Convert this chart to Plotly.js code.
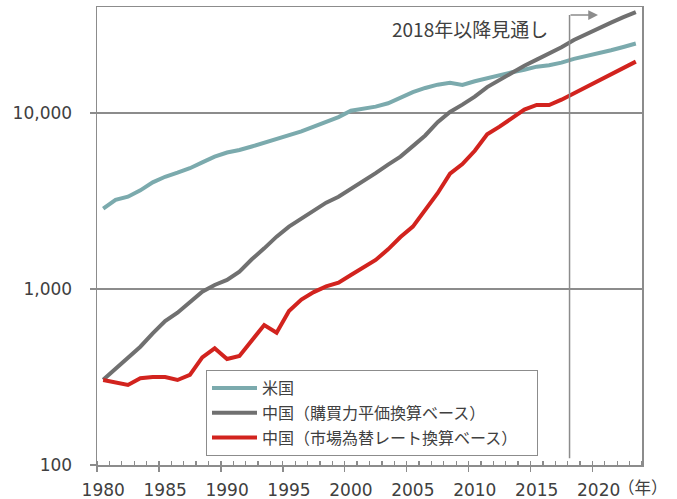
<!DOCTYPE html>
<html>
<head>
<meta charset="utf-8">
<script src="https://cdn.plot.ly/plotly-3.0.1.min.js"></script>
<style>
html,body{margin:0;padding:0;background:#fff;}
#chart{width:677px;height:499px;}
</style>
</head>
<body>
<div id="chart"></div>
<script>
const years = [1980,1981,1982,1983,1984,1985,1986,1987,1988,1989,
               1990,1991,1992,1993,1994,1995,1996,1997,1998,1999,
               2000,2001,2002,2003,2004,2005,2006,2007,2008,2009,
               2010,2011,2012,2013,2014,2015,2016,2017,2018,2019,
               2020,2021,2022,2023];

const usGDP = [2857,3207,3343,3634,4037,4339,4580,4855,5236,5642,
               5963,6158,6450,6780,7150,7450,7850,8370,8900,9480,
               10300,10540,10860,11350,12220,13120,13870,14480,14860,14420,
               15140,15810,16510,17030,17610,18330,18660,19320,20300,21000,
               21800,22700,23700,24800];

const chinaPPP = [305,354,409,470,560,658,733,836,966,1054,
                  1125,1254,1475,1701,1983,2259,2522,2812,3094,3340,
                  3690,4110,4550,5090,5650,6480,7450,8870,10130,11150,
                  12380,14030,15400,16990,18540,20090,21730,23620,25980,28100,
                  30300,32600,35000,37400];

const chinaMarket = [304,293,285,311,316,316,304,325,409,460,
                     400,416,513,624,565,750,870,960,1035,1086,
                     1201,1321,1461,1680,1974,2260,2830,3500,4520,5120,
                     6100,7560,8360,9360,10450,11100,11100,11900,12940,14000,
                     15280,16670,18080,19570];

const seriesNames = ['米国','中国（購買力平価換算ベース）','中国（市場為替レート換算ベース）'];
const xTickVals = [1980,1985,1990,1995,2000,2005,2010,2015,2020];
const xTickLabels = ['1980','1985','1990','1995','2000','2005','2010','2015','2020'];
const xTickBounds = [1979.5,1984.5,1989.5,1994.5,1999.5,2004.5,2009.5,2014.5,2019.5];
const yTickVals = [100,1000,10000];
const yTickText = ['100','1,000','10,000'];
const forecastLabel = '2018年以降見通し';
const yearUnit = '（年）';

const axisColor = '#8c8c8c';
const textColor = '#404040';
const cjk = '"Noto Sans CJK JP", sans-serif';
const latin = '"DejaVu Sans", sans-serif';
const xRange = [1979.5, 2023.5];
const pad = '\u00a0\u00a0\u00a0\u00a0';

const traces = [
  {x: years, y: usGDP, name: seriesNames[0], type: 'scatter', mode: 'lines',
   line: {color: '#7BAAAD', width: 4}, legendgroup: 'a'},
  {x: years, y: chinaPPP, name: seriesNames[1], type: 'scatter', mode: 'lines',
   line: {color: '#707070', width: 4}, legendgroup: 'b'},
  {x: years, y: chinaMarket, name: seriesNames[2] + pad, type: 'scatter', mode: 'lines',
   line: {color: '#D2231E', width: 4}, legendgroup: 'c'},
  {x: [], y: [], xaxis: 'x2', yaxis: 'y', type: 'scatter', mode: 'lines',
   showlegend: false, hoverinfo: 'skip'}
];

const layout = {
  width: 677, height: 499,
  margin: {l: 97, r: 35, t: 7, b: 34},
  paper_bgcolor: '#fff', plot_bgcolor: '#fff',
  showlegend: true,
  legend: {
    x: 0.2, y: 0.2074, xanchor: 'left', yanchor: 'top',
    bgcolor: '#fff', bordercolor: axisColor, borderwidth: 1,
    font: {family: cjk, size: 16, color: textColor},
    tracegroupgap: 1, itemwidth: 45
  },
  xaxis: {
    type: 'linear', range: xRange,
    tickmode: 'array', tickvals: xTickVals, ticktext: xTickLabels,
    ticks: '', ticklabelstandoff: 9,
    showgrid: false, zeroline: false,
    showline: true, mirror: true, linecolor: axisColor, linewidth: 1.5,
    tickfont: {family: latin, size: 17, color: textColor}
  },
  xaxis2: {
    overlaying: 'x', side: 'bottom', type: 'linear', range: xRange,
    tickmode: 'array', tickvals: xTickBounds, showticklabels: false,
    ticks: 'outside', ticklen: 6, tickwidth: 1.5, tickcolor: axisColor,
    minor: {tick0: 1979.5, dtick: 1, ticks: 'inside', ticklen: 4, tickwidth: 1.3, tickcolor: axisColor, showgrid: false},
    showgrid: false, zeroline: false, showline: false
  },
  yaxis: {
    type: 'log', range: [2, 4.602],
    tickmode: 'array', tickvals: yTickVals, ticktext: yTickText,
    ticks: 'outside', ticklen: 6, tickwidth: 1.5, tickcolor: axisColor,
    ticklabelstandoff: 14,
    showgrid: true, gridcolor: axisColor, gridwidth: 1.3,
    zeroline: false,
    showline: true, mirror: true, linecolor: axisColor, linewidth: 1.5,
    tickfont: {family: latin, size: 17, color: textColor}
  },
  shapes: [
    {type: 'line', xref: 'x', yref: 'paper', x0: 2017.65, x1: 2017.65, y0: 0.015, y1: 0.9825,
     line: {color: axisColor, width: 1.5}}
  ],
  annotations: [
    {xref: 'x', yref: 'paper', x: 2019.95, y: 0.9825, ax: -29, ay: 0,
     showarrow: true, arrowhead: 2, arrowsize: 1.3, arrowwidth: 1.5, arrowcolor: axisColor, text: ''},
    {xref: 'paper', yref: 'paper', x: 0.5376, y: 0.952, xanchor: 'left', yanchor: 'middle',
     text: forecastLabel, showarrow: false, font: {family: cjk, size: 19, color: textColor}},
    {xref: 'paper', yref: 'paper', x: 1.0018, y: -0.048, xanchor: 'center', yanchor: 'middle',
     text: yearUnit, showarrow: false, borderpad: 0, font: {family: cjk, size: 16.5, color: textColor}}
  ]
};

Plotly.newPlot('chart', traces, layout, {displayModeBar: false, staticPlot: true});
</script>
</body>
</html>
